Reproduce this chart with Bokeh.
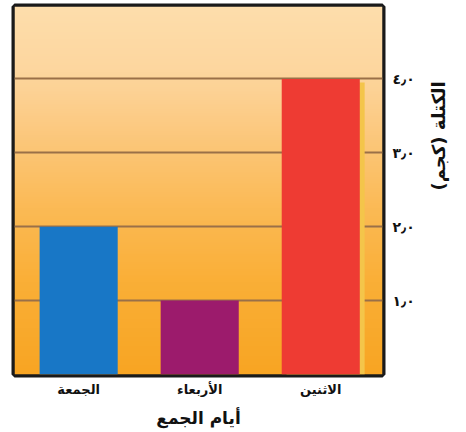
import numpy as np
from bokeh.plotting import figure
from bokeh.models import Range1d, FixedTicker, Title, ColumnDataSource
from bokeh.embed import file_html
from bokeh.resources import INLINE

# ---- data ----
days = ["الجمعة", "الأربعاء", "الاثنين"]
mass = [2.0, 1.0, 4.0]
colors = ["#1877C6", "#9C1B6C", "#EE3B33"]
shadow_alpha = [0.0, 0.0, 1.0]
y_ticks = [1, 2, 3, 4]
y_tick_labels = ["١٫٠", "٢٫٠", "٣٫٠", "٤٫٠"]
x_title = "أيام الجمع"
y_title = "الكتلة (كجم)"

FONT = "DejaVu Sans"

x0, x1 = -0.53, 2.51
y0, y1 = 0.0, 4.98

p = figure(width=464, height=430, output_backend="svg", toolbar_location=None,
           x_range=Range1d(x0, x1), y_range=Range1d(y0, y1),
           y_axis_location="right",
           min_border_left=14, min_border_top=6, min_border_right=82,
           min_border_bottom=55)

p.background_fill_color = "white"
p.border_fill_color = "white"
p.outline_line_color = "#1a1a1a"
p.outline_line_width = 6

# gradient background (pale peach at top to orange at bottom)
stops_y = np.array([0.0, 0.25, 0.45, 0.65, 0.82, 1.0])  # fraction from bottom
stops_c = np.array([
    [248, 165, 35],
    [250, 175, 55],
    [251, 186, 85],
    [252, 200, 125],
    [253, 214, 158],
    [254, 222, 172],
])
n = 200
fr = np.linspace(0, 1, n)
img = np.zeros((n, 2), dtype=np.uint32)
view = img.view(dtype=np.uint8).reshape((n, 2, 4))
for k in range(3):
    col = np.interp(fr, stops_y, stops_c[:, k])
    view[:, :, k] = col[:, None].astype(np.uint8)
view[:, :, 3] = 255
p.image_rgba(image=[img], x=x0, y=y0, dw=x1 - x0, dh=y1 - y0, level="image")

# grid
p.xgrid.visible = False
p.ygrid.ticker = FixedTicker(ticks=y_ticks)
p.ygrid.grid_line_color = "#9a7048"
p.ygrid.grid_line_width = 2

xs = list(range(len(days)))
src = ColumnDataSource(dict(x=xs, top=mass, color=colors, sa=shadow_alpha,
                            xs=[v + 0.04 for v in xs], ts=[m - 0.05 for m in mass]))
# shadow strip
p.vbar(x="xs", top="ts", bottom=0, width=0.645, source=src,
       fill_color="#F4C54A", fill_alpha="sa", line_color=None)
p.vbar(x="x", top="top", bottom=0, width=0.645, source=src,
       fill_color="color", line_color=None)

# y axis (right)
ya = p.yaxis[0]
ya.ticker = FixedTicker(ticks=y_ticks)
ya.major_label_overrides = {t: l for t, l in zip(y_ticks, y_tick_labels)}
ya.axis_line_color = None
ya.major_tick_line_color = None
ya.minor_tick_line_color = None
ya.major_tick_out = 0
ya.major_label_standoff = 10
ya.major_label_text_font = FONT
ya.major_label_text_font_size = "14px"
ya.major_label_text_font_style = "bold"
ya.major_label_text_color = "#111111"

oriented = False
try:
    ya.axis_label_orientation = float(np.pi / 2)
    oriented = True
except Exception:
    oriented = False

if oriented:
    ya.axis_label = y_title
    ya.axis_label_standoff = 21
    ya.axis_label_text_font = FONT
    ya.axis_label_text_font_size = "18px"
    ya.axis_label_text_font_style = "bold"
    ya.axis_label_text_color = "#111111"
else:
    t = Title(text=y_title, align="center", text_font=FONT, text_font_size="18px",
              text_font_style="bold", text_color="#111111")
    p.add_layout(t, "right")

# x axis
xa = p.xaxis[0]
xa.ticker = FixedTicker(ticks=xs)
xa.major_label_overrides = {i: d for i, d in zip(xs, days)}
xa.axis_line_color = None
xa.major_tick_line_color = None
xa.minor_tick_line_color = None
xa.major_tick_out = 0
xa.major_label_standoff = 7
xa.major_label_text_font = FONT
xa.major_label_text_font_size = "13px"
xa.major_label_text_font_style = "bold"
xa.major_label_text_color = "#111111"
xa.axis_label = x_title
xa.axis_label_standoff = 8
xa.axis_label_text_font = FONT
xa.axis_label_text_font_size = "17px"
xa.axis_label_text_font_style = "bold"
xa.axis_label_text_color = "#111111"

open("out.html", "w").write(file_html(p, INLINE))
